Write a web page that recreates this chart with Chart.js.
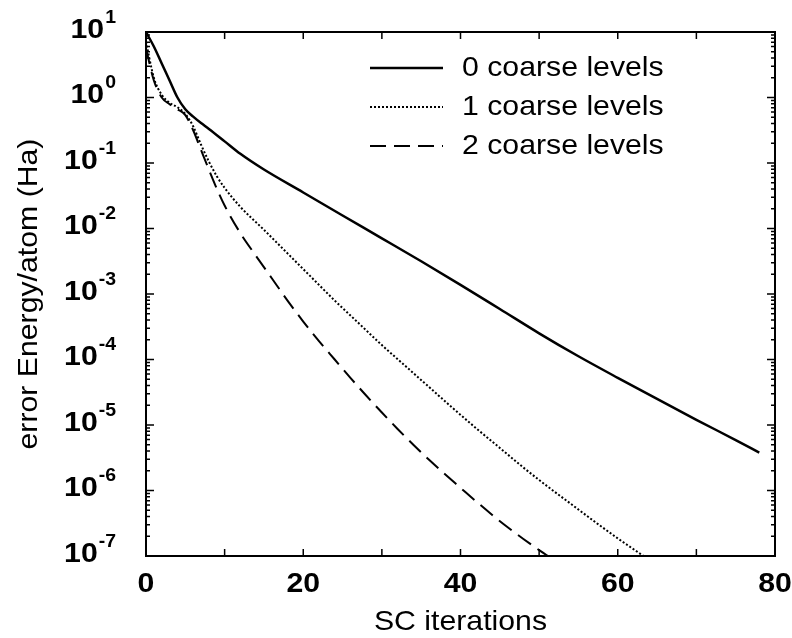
<!DOCTYPE html>
<html>
<head>
<meta charset="utf-8">
<script src="https://cdn.jsdelivr.net/npm/chart.js@4.4.0/dist/chart.umd.min.js"></script>
<style>
html, body { margin: 0; padding: 0; background: #fff; }
</style>
</head>
<body>
<canvas id="chart" width="792" height="638"></canvas>
<script>
// Energy error per atom vs self-consistent iterations (log scale)
const seriesLabels = ['0 coarse levels', '1 coarse levels', '2 coarse levels'];

const iter0 = [0, 1, 2, 3, 4, 5, 6, 7, 8, 10, 12, 15, 20, 25, 30, 35, 40, 45, 50, 55, 60, 65, 70, 75, 78];
const err0 = [10, 6.0, 3.3, 1.82, 1.0, 0.66, 0.51, 0.407, 0.331, 0.214, 0.138, 0.0794, 0.0355, 0.0158,
    7.08e-3, 3.16e-3, 1.38e-3, 5.9e-4, 2.51e-4, 1.12e-4, 5.25e-5, 2.51e-5, 1.2e-5, 5.89e-6, 3.8e-6];

const iter1 = [0, 1, 2, 3, 4, 5, 6, 7, 8, 9, 10, 12, 15, 18, 21, 24, 27, 30, 33, 36, 39, 42, 45, 48, 51, 54, 57, 60, 63, 64];
const err1 = [7.08, 2.0, 1.1, 0.83, 0.71, 0.56, 0.363, 0.19, 0.105, 0.063, 0.0417, 0.0214, 9.55e-3, 4.17e-3,
    1.82e-3, 7.94e-4, 3.63e-4, 1.66e-4, 7.94e-5, 3.8e-5, 1.82e-5, 8.9e-6, 4.47e-6, 2.24e-6, 1.17e-6, 6.3e-7,
    3.39e-7, 1.86e-7, 1.05e-7, 8.7e-8];

const iter2 = [0, 1, 2, 3, 4, 5, 6, 7, 8, 9, 10, 12, 14, 16, 18, 20, 22, 24, 26, 28, 30, 32, 34, 36, 38, 40, 42, 44, 46, 48, 50, 52];
const err2 = [5.6, 1.82, 1.0, 0.79, 0.66, 0.54, 0.316, 0.158, 0.0794, 0.0407, 0.0224, 8.5e-3, 3.8e-3, 1.74e-3,
    7.94e-4, 3.8e-4, 1.91e-4, 1.0e-4, 5.25e-5, 2.82e-5, 1.55e-5, 8.7e-6, 5.0e-6, 2.95e-6, 1.78e-6, 1.1e-6,
    6.8e-7, 4.27e-7, 2.75e-7, 1.82e-7, 1.23e-7, 8.5e-8];

const xTickLabels = [0, 20, 40, 60, 80];
const xTickMarks = [10, 20, 30, 40, 50, 60, 70];
const yExponents = [1, 0, -1, -2, -3, -4, -5, -6, -7];

const FONT = '"Liberation Sans", Arial, Helvetica, sans-serif';
const STRETCH = 1.08;

function pts(xs, ys) {
    return xs.map((x, i) => ({x: x, y: ys[i]}));
}

function drawText(ctx, txt, x, y, font, align) {
    ctx.save();
    ctx.font = font;
    ctx.textBaseline = 'middle';
    ctx.textAlign = align || 'left';
    ctx.translate(x, y);
    ctx.scale(STRETCH, 1);
    ctx.fillText(txt, 0, 0);
    ctx.restore();
}

const decorPlugin = {
    id: 'decor',
    afterDraw(chart) {
        const ctx = chart.ctx;
        const a = chart.chartArea;
        const xs = chart.scales.x;
        const ys = chart.scales.y;
        ctx.save();
        ctx.strokeStyle = '#000';
        ctx.fillStyle = '#000';

        // caja
        ctx.lineWidth = 2;
        ctx.strokeRect(a.left, a.top, a.right - a.left, a.bottom - a.top);

        // ticks x (hacia dentro, abajo y arriba)
        ctx.lineWidth = 1.5;
        ctx.beginPath();
        xTickMarks.forEach(v => {
            const px = xs.getPixelForValue(v);
            ctx.moveTo(px, a.bottom); ctx.lineTo(px, a.bottom - 7);
            ctx.moveTo(px, a.top); ctx.lineTo(px, a.top + 7);
        });
        // ticks y mayores y menores
        yExponents.forEach(e => {
            const py = ys.getPixelForValue(Math.pow(10, e));
            ctx.moveTo(a.left, py); ctx.lineTo(a.left + 8, py);
            ctx.moveTo(a.right, py); ctx.lineTo(a.right - 8, py);
            if (e > -7) {
                for (let m = 2; m <= 9; m++) {
                    const pm = ys.getPixelForValue(m * Math.pow(10, e - 1));
                    ctx.moveTo(a.left, pm); ctx.lineTo(a.left + 4, pm);
                    ctx.moveTo(a.right, pm); ctx.lineTo(a.right - 4, pm);
                }
            }
        });
        ctx.stroke();

        // etiquetas x
        xTickLabels.forEach(v => {
            drawText(ctx, String(v), xs.getPixelForValue(v), a.bottom + 28, 'bold 28px ' + FONT, 'center');
        });

        // etiquetas y con exponente
        const baseFont = 'bold 28px ' + FONT;
        const supFont = 'bold 18px ' + FONT;
        yExponents.forEach(e => {
            const py = ys.getPixelForValue(Math.pow(10, e));
            const exp = e < 0 ? '-' + (-e) : String(e);
            ctx.font = baseFont;
            const w1 = ctx.measureText('10').width * STRETCH;
            ctx.font = supFont;
            const w2 = ctx.measureText(exp).width * STRETCH;
            const right = a.left - 30;
            const left = right - w1 - w2 - 1;
            drawText(ctx, '10', left, py - 2, baseFont, 'left');
            drawText(ctx, exp, left + w1 + 1, py - 14, supFont, 'left');
        });

        // titulos
        drawText(ctx, 'SC iterations', (a.left + a.right) / 2, 622, '28px ' + FONT, 'center');
        ctx.save();
        ctx.translate(29, 294);
        ctx.rotate(-Math.PI / 2);
        drawText(ctx, 'error Energy/atom (Ha)', 0, 0, '28px ' + FONT, 'center');
        ctx.restore();

        // leyenda
        chart.data.datasets.forEach((ds, i) => {
            const ly = 68 + i * 39;
            ctx.save();
            ctx.lineWidth = ds.borderWidth;
            ctx.setLineDash(ds.borderDash || []);
            ctx.beginPath();
            ctx.moveTo(370, ly);
            ctx.lineTo(443, ly);
            ctx.stroke();
            ctx.restore();
            drawText(ctx, ds.label, 462, ly, '28px ' + FONT, 'left');
        });
        ctx.restore();
    }
};

new Chart(document.getElementById('chart').getContext('2d'), {
    type: 'line',
    data: {
        datasets: [
            {label: seriesLabels[0], data: pts(iter0, err0), borderColor: '#000', borderWidth: 2.5, borderDash: []},
            {label: seriesLabels[1], data: pts(iter1, err1), borderColor: '#000', borderWidth: 2, borderDash: [2, 2]},
            {label: seriesLabels[2], data: pts(iter2, err2), borderColor: '#000', borderWidth: 2, borderDash: [16, 8]}
        ]
    },
    options: {
        responsive: false,
        animation: false,
        devicePixelRatio: 1,
        layout: {padding: {left: 0, top: 32, right: 17, bottom: 0}},
        elements: {
            point: {radius: 0},
            line: {cubicInterpolationMode: 'monotone', fill: false}
        },
        plugins: {legend: {display: false}, tooltip: {enabled: false}},
        scales: {
            x: {
                type: 'linear', min: 0, max: 80,
                ticks: {display: false}, grid: {display: false}, border: {display: false},
                afterFit(s) { s.height = 82; }
            },
            y: {
                type: 'logarithmic', min: 1e-7, max: 10,
                ticks: {display: false}, grid: {display: false}, border: {display: false},
                afterFit(s) { s.width = 146; }
            }
        }
    },
    plugins: [decorPlugin]
});
</script>
</body>
</html>
